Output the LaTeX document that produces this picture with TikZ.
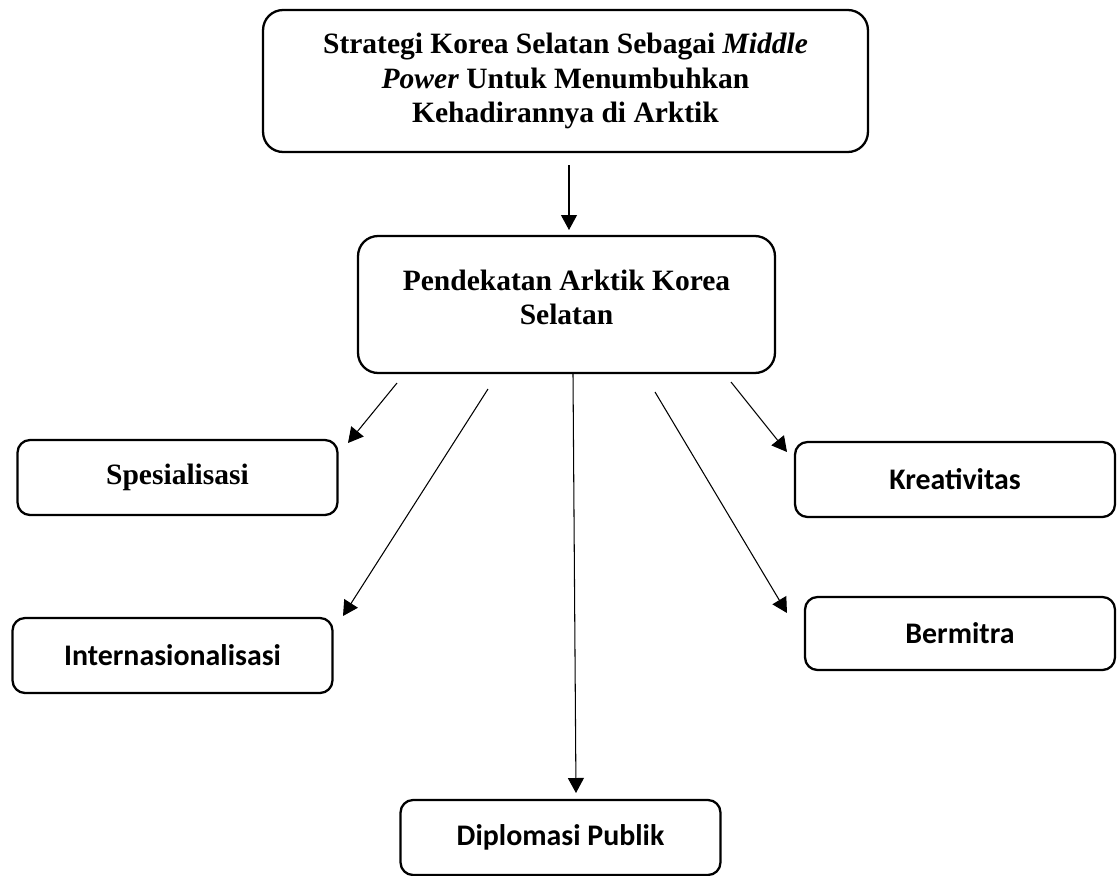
\documentclass[tikz,border=0pt]{standalone}
\usepackage{fontspec}
\setmainfont{Liberation Serif}
\newfontfamily\carlito{Carlito}
\usetikzlibrary{arrows.meta}

\begin{document}
\begin{tikzpicture}[x=0.02cm, y=-0.02cm,
    kotak/.style={draw, rectangle, rounded corners=0.25cm, line width=1.3pt, minimum width=6.4cm, minimum height=1.5cm, align=center, font=\fontsize{16.8}{19.5}\selectfont\bfseries},
    kotaksans/.style={kotak, font=\carlito\fontsize{17}{19.5}\selectfont\bfseries},
    besar/.style={kotak, rounded corners=0.4cm},
    panah/.style={-{Triangle[length=0.3cm, width=0.32cm]}, line width=0.6pt}]
    \useasboundingbox (0,0) rectangle (1117,876);

    \node[besar, minimum width=12.1cm, minimum height=2.84cm] (strategi) at (565.5,81) {Strategi Korea Selatan Sebagai \textit{Middle}\\\textit{Power} Untuk Menumbuhkan\\Kehadirannya di Arktik};
    \node[besar, minimum width=8.34cm, minimum height=2.74cm, text depth=0.28cm] (pendekatan) at (566.5,304.5) {Pendekatan Arktik Korea\\Selatan};

    \node[kotak] (spesialisasi) at (177.5,477.5) {Spesialisasi};
    \node[kotaksans] (internasional) at (172.5,655.5) {Internasionalisasi};
    \node[kotaksans] (diplomasi) at (560.5,837.5) {Diplomasi Publik};
    \node[kotaksans, minimum width=6.2cm, minimum height=1.46cm] (bermitra) at (960,633.5) {Bermitra};
    \node[kotaksans] (kreativitas) at (955,479.5) {Kreativitas};

    \coordinate (s0) at (569,165);  \coordinate (s1) at (569,230);
    \coordinate (p1) at (397,383);  \coordinate (q1) at (348,443);
    \coordinate (p2) at (488,389);  \coordinate (q2) at (343,616);
    \coordinate (p3) at (573,374);  \coordinate (q3) at (576,793);
    \coordinate (p4) at (655,392);  \coordinate (q4) at (787,613);
    \coordinate (p5) at (731,382);  \coordinate (q5) at (787,452);

    \draw[panah] (s0) -- (s1);
    \draw[panah] (p1) -- (q1);
    \draw[panah] (p2) -- (q2);
    \draw[panah] (p3) -- (q3);
    \draw[panah] (p4) -- (q4);
    \draw[panah] (p5) -- (q5);
\end{tikzpicture}
\end{document}
